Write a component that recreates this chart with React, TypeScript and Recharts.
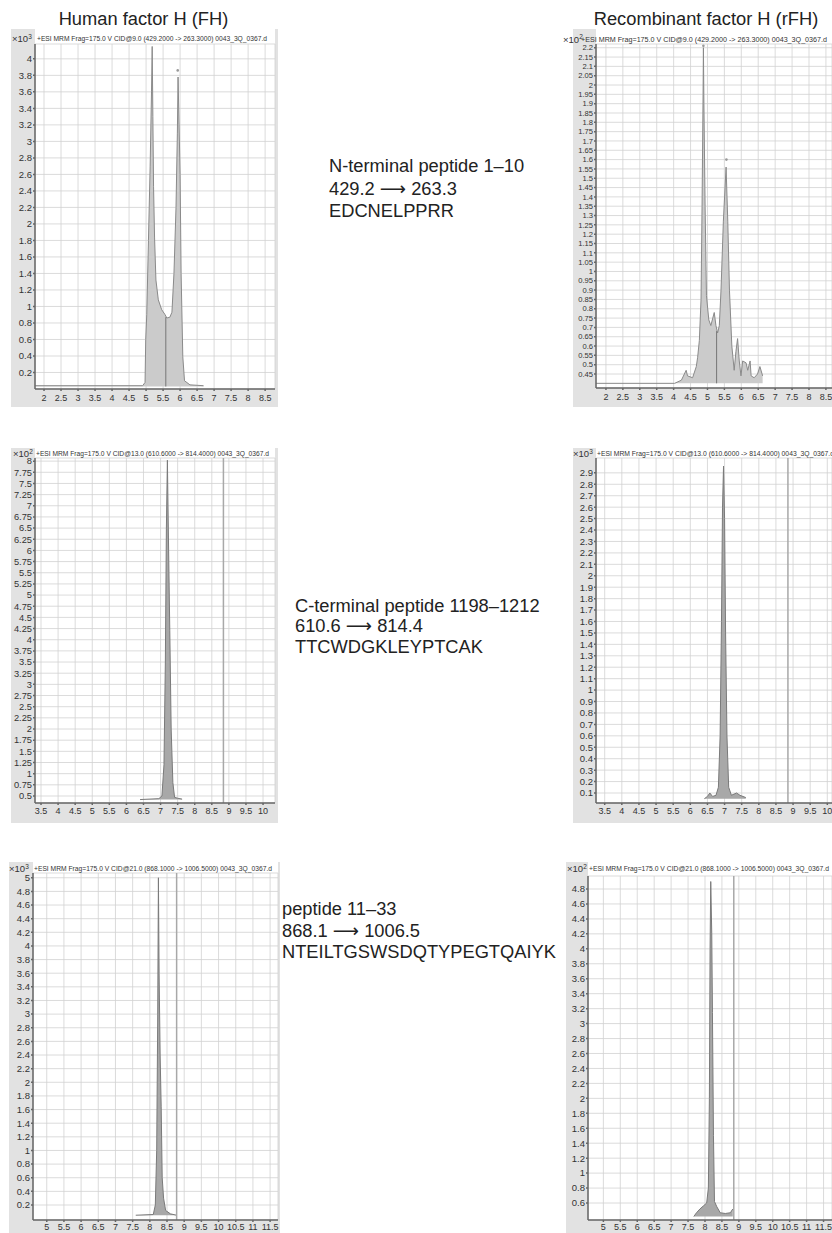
import React from 'react';
import { ComposedChart, Area, XAxis, YAxis, CartesianGrid, ReferenceLine, ReferenceDot } from 'recharts';

// retention time (min) and counts for each MRM trace
const fhNTermTime = [1.74, 4.9, 4.97, 4.99, 5.02, 5.07, 5.12, 5.16, 5.18, 5.2, 5.22, 5.25, 5.29, 5.36, 5.46, 5.56, 5.61, 5.7, 5.76, 5.82, 5.88, 5.92, 5.94, 5.97, 6.0, 6.03, 6.08, 6.13, 6.29, 6.69];
const fhNTermCounts = [0.04, 0.04, 0.08, 0.6, 0.9, 1.8, 2.7, 3.6, 4.15, 3.3, 2.45, 1.83, 1.32, 1.08, 0.96, 0.9, 0.86, 0.87, 0.93, 1.4, 2.2, 3.1, 3.78, 3.2, 2.6, 1.4, 0.39, 0.1, 0.05, 0.04];

const rfhNTermTime = [1.7, 4.03, 4.23, 4.37, 4.41, 4.56, 4.67, 4.71, 4.76, 4.81, 4.84, 4.87, 4.88, 4.895, 4.93, 4.97, 5.04, 5.1, 5.2, 5.25, 5.3, 5.35, 5.4, 5.47, 5.55, 5.6, 5.65, 5.72, 5.79, 5.84, 5.89, 5.94, 5.99, 6.04, 6.14, 6.19, 6.26, 6.29, 6.38, 6.48, 6.55, 6.63];
const rfhNTermCounts = [0.4, 0.4, 0.417, 0.47, 0.44, 0.43, 0.49, 0.54, 0.63, 0.85, 1.35, 1.95, 2.2, 1.9, 1.35, 0.87, 0.74, 0.71, 0.78, 0.71, 0.67, 0.71, 0.9, 1.27, 1.56, 1.27, 0.9, 0.6, 0.47, 0.57, 0.64, 0.52, 0.44, 0.52, 0.51, 0.47, 0.52, 0.44, 0.43, 0.45, 0.49, 0.44];

const fhCTermTime = [6.4, 6.95, 7.04, 7.1, 7.14, 7.17, 7.2, 7.23, 7.27, 7.31, 7.36, 7.41, 7.5, 7.63];
const fhCTermCounts = [0.42, 0.44, 0.5, 1.2, 3.5, 6.5, 8.02, 6.3, 4.2, 2.0, 0.8, 0.47, 0.45, 0.43];

const rfhCTermTime = [6.41, 6.5, 6.57, 6.65, 6.75, 6.82, 6.87, 6.91, 6.94, 6.97, 7.0, 7.03, 7.07, 7.12, 7.2, 7.35, 7.45, 7.62];
const rfhCTermCounts = [0.05, 0.07, 0.1, 0.07, 0.08, 0.15, 0.6, 1.6, 2.6, 2.96, 2.5, 1.5, 0.6, 0.15, 0.08, 0.1, 0.08, 0.06];

const fhP1133Time = [7.59, 8.1, 8.16, 8.2, 8.23, 8.25, 8.27, 8.3, 8.33, 8.36, 8.4, 8.46, 8.6, 8.78];
const fhP1133Counts = [0.05, 0.06, 0.2, 1.0, 3.0, 5.0, 3.6, 2.4, 1.65, 0.6, 0.3, 0.12, 0.07, 0.05];

const rfhP1133Time = [7.67, 7.75, 7.85, 7.95, 8.05, 8.1, 8.13, 8.15, 8.17, 8.2, 8.22, 8.25, 8.28, 8.35, 8.45, 8.6, 8.75, 8.82];
const rfhP1133Counts = [0.42, 0.47, 0.52, 0.56, 0.6, 0.8, 2.0, 4.0, 4.9, 4.2, 3.15, 1.5, 0.62, 0.55, 0.47, 0.46, 0.47, 0.52];

// axis ticks
const nTermTicksX = [2, 2.5, 3, 3.5, 4, 4.5, 5, 5.5, 6, 6.5, 7, 7.5, 8, 8.5];
const cTermTicksX = [3.5, 4, 4.5, 5, 5.5, 6, 6.5, 7, 7.5, 8, 8.5, 9, 9.5, 10];
const p1133TicksX = [5, 5.5, 6, 6.5, 7, 7.5, 8, 8.5, 9, 9.5, 10, 10.5, 11, 11.5];

const fhNTermTicksY = [0.2, 0.4, 0.6, 0.8, 1, 1.2, 1.4, 1.6, 1.8, 2, 2.2, 2.4, 2.6, 2.8, 3, 3.2, 3.4, 3.6, 3.8, 4];
const rfhNTermTicksY = [0.45, 0.5, 0.55, 0.6, 0.65, 0.7, 0.75, 0.8, 0.85, 0.9, 0.95, 1, 1.05, 1.1, 1.15, 1.2, 1.25, 1.3, 1.35, 1.4, 1.45, 1.5, 1.55, 1.6, 1.65, 1.7, 1.75, 1.8, 1.85, 1.9, 1.95, 2, 2.05, 2.1, 2.15, 2.2];
const fhCTermTicksY = [0.5, 0.75, 1, 1.25, 1.5, 1.75, 2, 2.25, 2.5, 2.75, 3, 3.25, 3.5, 3.75, 4, 4.25, 4.5, 4.75, 5, 5.25, 5.5, 5.75, 6, 6.25, 6.5, 6.75, 7, 7.25, 7.5, 7.75, 8];
const rfhCTermTicksY = [0.1, 0.2, 0.3, 0.4, 0.5, 0.6, 0.7, 0.8, 0.9, 1, 1.1, 1.2, 1.3, 1.4, 1.5, 1.6, 1.7, 1.8, 1.9, 2, 2.1, 2.2, 2.3, 2.4, 2.5, 2.6, 2.7, 2.8, 2.9];
const fhP1133TicksY = [0.2, 0.4, 0.6, 0.8, 1, 1.2, 1.4, 1.6, 1.8, 2, 2.2, 2.4, 2.6, 2.8, 3, 3.2, 3.4, 3.6, 3.8, 4, 4.2, 4.4, 4.6, 4.8, 5];
const rfhP1133TicksY = [0.6, 0.8, 1, 1.2, 1.4, 1.6, 1.8, 2, 2.2, 2.4, 2.6, 2.8, 3, 3.2, 3.4, 3.6, 3.8, 4, 4.2, 4.4, 4.6, 4.8];

const nTermHeader = '+ESI MRM Frag=175.0 V CID@9.0 (429.2000 -> 263.3000)  0043_3Q_0367.d';
const cTermHeader = '+ESI MRM Frag=175.0 V CID@13.0 (610.6000 -> 814.4000)  0043_3Q_0367.d';
const p1133Header = '+ESI MRM Frag=175.0 V CID@21.0 (868.1000 -> 1006.5000)  0043_3Q_0367.d';

const FONT = '"Liberation Sans", Arial, Helvetica, sans-serif';

type PanelProps = {
  box: number[]; // left, top, right, bottom (page px)
  plot: number[]; // left, top, right, bottom (page px)
  xDomain: number[];
  yDomain: number[];
  xTicks: number[];
  yTicks: number[];
  time: number[];
  counts: number[];
  base: number;
  exp: string;
  header: string;
  hdr: number[]; // expX, textX1, textX2, baseline
  yFont: number;
  xMargin: number;
  fill: string;
  stroke: string;
  cut?: number[];
  marker?: number;
  dots?: number[][];
};

function Panel(p: PanelProps) {
  const [bl, bt, br, bb] = p.box;
  const [pl, pt, pr, pb] = p.plot;
  const bw = br - bl;
  const bh = bb - bt;
  const data = p.time.map((t, i) => ({ t, c: p.counts[i] }));
  return (
    <div style={{ position: 'absolute', left: bl, top: bt, width: bw, height: bh, background: '#e2e2e2' }}>
      <div style={{ position: 'absolute', left: pl - bl, top: 0, width: pr - pl, height: pb - bt, background: '#fff' }} />
      <div style={{ position: 'absolute', left: 0, top: 0 }}>
        <ComposedChart width={bw} height={bh} data={data} margin={{ top: pt - bt, right: br - pr, left: 0, bottom: 0 }}>
          <CartesianGrid stroke="#d2d2d2" strokeWidth={0.8} />
          <XAxis
            type="number"
            dataKey="t"
            domain={p.xDomain}
            ticks={p.xTicks}
            allowDataOverflow
            interval={0}
            height={bb - pb}
            tick={{ fontSize: 9, fill: '#333', fontFamily: FONT }}
            tickSize={2}
            tickMargin={p.xMargin}
            stroke="#666"
            strokeWidth={1.5}
          />
          <YAxis
            type="number"
            domain={p.yDomain}
            ticks={p.yTicks}
            allowDataOverflow
            interval={0}
            width={pl - bl}
            tick={{ fontSize: p.yFont, fill: '#333', fontFamily: FONT }}
            tickSize={2}
            tickMargin={1}
            stroke="#666"
            strokeWidth={1.5}
          />
          {p.marker !== undefined && <ReferenceLine x={p.marker} stroke="#a8a8a8" strokeWidth={1.5} />}
          <Area
            type="linear"
            dataKey="c"
            baseValue={p.base}
            fill={p.fill}
            fillOpacity={1}
            stroke={p.stroke}
            strokeWidth={1}
            dot={false}
            activeDot={false}
            isAnimationActive={false}
          />
          {p.cut && (
            <ReferenceLine
              segment={[{ x: p.cut[0], y: p.base }, { x: p.cut[0], y: p.cut[1] }]}
              stroke="#777"
              strokeWidth={1}
            />
          )}
          {(p.dots || []).map((d, i) => (
            <ReferenceDot key={i} x={d[0]} y={d[1]} r={1.3} fill="#999" stroke="none" />
          ))}
        </ComposedChart>
      </div>
      <svg
        style={{ position: 'absolute', left: 0, top: 0, overflow: 'visible' }}
        width={bw}
        height={bh}
        viewBox={`${bl} ${bt} ${bw} ${bh}`}
      >
        <text x={p.hdr[0]} y={p.hdr[3] + 1} fontSize={9.5} fill="#333" fontFamily={FONT}>
          ×10<tspan dy={-3.5} fontSize={6.5}>{p.exp}</tspan>
        </text>
        <text
          x={p.hdr[1]}
          y={p.hdr[3]}
          fontSize={6.3}
          fill="#333"
          fontFamily={FONT}
          textLength={p.hdr[2] - p.hdr[1]}
          lengthAdjust="spacingAndGlyphs"
        >
          {p.header}
        </text>
      </svg>
    </div>
  );
}

function Arrow() {
  return <tspan fontFamily='"DejaVu Sans", sans-serif'>⟶</tspan>;
}

export default function App() {
  const light = { fill: '#cbcbcb', stroke: '#8a8a8a' };
  const dark = { fill: '#a8a8a8', stroke: '#7a7a7a' };
  return (
    <div style={{ position: 'absolute', left: 0, top: 0, width: 832, height: 1233, background: '#fff', overflow: 'hidden', fontFamily: FONT }}>
      <Panel
        box={[11, 29, 278, 407]}
        plot={[35, 44, 275, 389]}
        xDomain={[1.735, 8.79]}
        yDomain={[0, 4.18]}
        xTicks={nTermTicksX}
        yTicks={fhNTermTicksY}
        time={fhNTermTime}
        counts={fhNTermCounts}
        base={0.03}
        exp="3"
        header={nTermHeader}
        hdr={[12, 37, 267, 41]}
        yFont={9.5}
        xMargin={4}
        {...light}
        cut={[5.58, 0.87]}
        dots={[[5.93, 3.86]]}
      />
      <Panel
        box={[573, 29, 832, 407]}
        plot={[596, 44, 832, 388]}
        xDomain={[1.706, 8.68]}
        yDomain={[0.375, 2.22]}
        xTicks={nTermTicksX}
        yTicks={rfhNTermTicksY}
        time={rfhNTermTime}
        counts={rfhNTermCounts}
        base={0.4}
        exp="2"
        header={nTermHeader}
        hdr={[563, 581, 827, 41.5]}
        yFont={7.6}
        xMargin={4}
        {...light}
        cut={[5.27, 0.68]}
        dots={[[4.88, 2.21], [5.56, 1.6]]}
      />
      <Panel
        box={[11, 448, 278, 823]}
        plot={[35, 458, 275, 803]}
        xDomain={[3.324, 10.35]}
        yDomain={[0.343, 8.07]}
        xTicks={cTermTicksX}
        yTicks={fhCTermTicksY}
        time={fhCTermTime}
        counts={fhCTermCounts}
        base={0.42}
        exp="2"
        header={cTermHeader}
        hdr={[13, 36, 269, 456]}
        yFont={9.3}
        xMargin={3}
        {...dark}
        marker={8.84}
      />
      <Panel
        box={[573, 448, 832, 823]}
        plot={[596, 458, 832, 803]}
        xDomain={[3.246, 10.137]}
        yDomain={[0.0125, 3.03]}
        xTicks={cTermTicksX}
        yTicks={rfhCTermTicksY}
        time={rfhCTermTime}
        counts={rfhCTermCounts}
        base={0.05}
        exp="3"
        header={cTermHeader}
        hdr={[573, 597, 834, 456]}
        yFont={9.5}
        xMargin={3}
        {...dark}
        marker={8.85}
      />
      <Panel
        box={[9, 862, 280, 1233]}
        plot={[33, 873, 278, 1220]}
        xDomain={[4.6, 11.73]}
        yDomain={[-0.02, 5.07]}
        xTicks={p1133TicksX}
        yTicks={fhP1133TicksY}
        time={fhP1133Time}
        counts={fhP1133Counts}
        base={0.05}
        exp="3"
        header={p1133Header}
        hdr={[9, 34, 272, 871]}
        yFont={9.5}
        xMargin={2}
        {...dark}
        marker={8.78}
      />
      <Panel
        box={[566, 862, 832, 1233]}
        plot={[588, 876, 832, 1220]}
        xDomain={[4.546, 11.75]}
        yDomain={[0.373, 4.974]}
        xTicks={p1133TicksX}
        yTicks={rfhP1133TicksY}
        time={rfhP1133Time}
        counts={rfhP1133Counts}
        base={0.42}
        exp="2"
        header={p1133Header}
        hdr={[567, 589, 829, 871]}
        yFont={9.5}
        xMargin={2}
        {...dark}
        marker={8.85}
      />
      <svg style={{ position: 'absolute', left: 0, top: 0, pointerEvents: 'none' }} width={832} height={1233}>
        <g fontFamily={FONT} fill="#222">
          <text x={143.5} y={25} fontSize={18.3} textAnchor="middle">Human factor H (FH)</text>
          <text x={706} y={25} fontSize={18.3} textAnchor="middle">Recombinant factor H (rFH)</text>
          <g fontSize={18.3}>
            <text x={329} y={172}>N-terminal peptide 1–10</text>
            <text x={329} y={195}>429.2 <Arrow /> 263.3</text>
            <text x={329} y={217}>EDCNELPPRR</text>
            <text x={295} y={612}>C-terminal peptide 1198–1212</text>
            <text x={295} y={632}>610.6 <Arrow /> 814.4</text>
            <text x={295} y={653}>TTCWDGKLEYPTCAK</text>
            <text x={282} y={915}>peptide 11–33</text>
            <text x={282} y={937}>868.1 <Arrow /> 1006.5</text>
            <text x={282} y={958}>NTEILTGSWSDQTYPEGTQAIYK</text>
          </g>
        </g>
      </svg>
    </div>
  );
}
